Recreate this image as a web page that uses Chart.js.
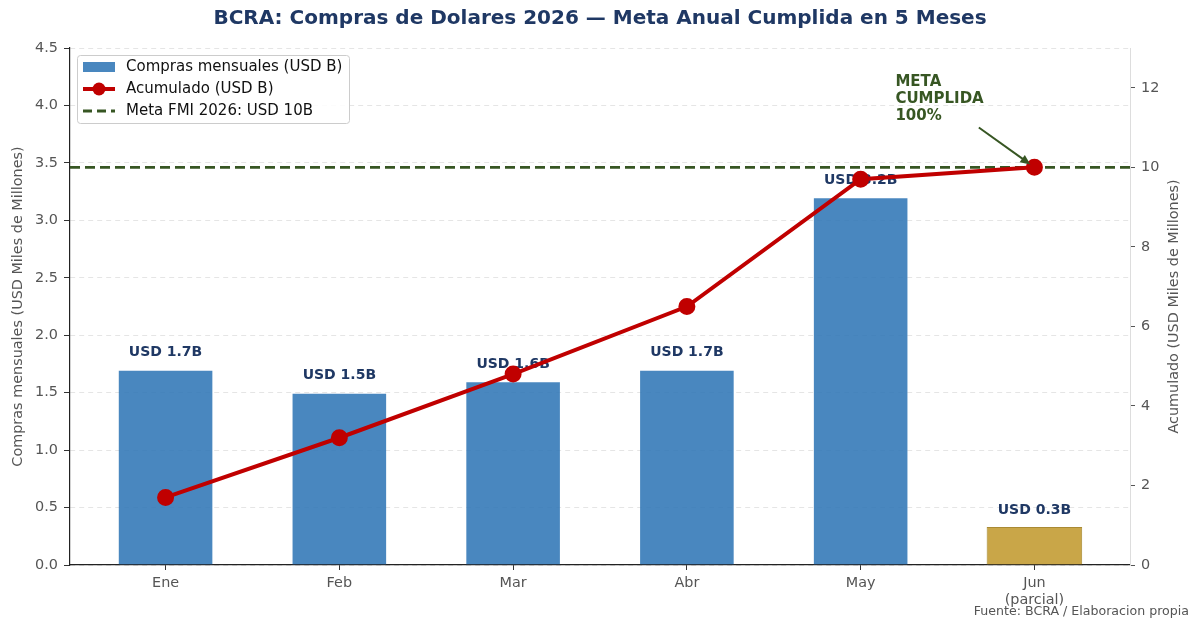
<!DOCTYPE html>
<html>
<head>
<meta charset="utf-8">
<script src="https://cdn.jsdelivr.net/npm/chart.js@4.4.1/dist/chart.umd.min.js"></script>
<style>
  html, body { margin: 0; padding: 0; background: #fff; }
  #wrap { width: 1200px; height: 630px; }
</style>
</head>
<body>
<div id="wrap"><canvas id="bcraChart" width="1200" height="630"></canvas></div>
<script>
const months = ['Ene', 'Feb', 'Mar', 'Abr', 'May', ['Jun', '(parcial)']];
const monthlyBuys = [1.7, 1.5, 1.6, 1.7, 3.2, 0.33];   // USD B
const monthlyLabels = ['USD 1.7B', 'USD 1.5B', 'USD 1.6B', 'USD 1.7B', 'USD 3.2B', 'USD 0.3B'];
const cumulative = [1.7, 3.2, 4.8, 6.5, 9.7, 10.0];   // USD B
const imfTarget = 10;
const xMin = -0.55, xMax = 5.55;

const FONT = "'DejaVu Sans', sans-serif";
const NAVY = '#1f3864';
const GREEN = '#375623';
const GREY = '#555555';

const barColors = monthlyBuys.map((v, i) => i === months.length - 1 ? 'rgba(191, 150, 40, 0.85)' : 'rgba(46, 117, 182, 0.87)');
const barBorders = monthlyBuys.map((v, i) => i === months.length - 1 ? 'rgba(160, 125, 30, 0.9)' : 'rgba(46, 117, 182, 0)');

// labels, title, annotation and legend drawn on the canvas
const decorations = {
    id: 'decorations',
    afterDatasetDraw(chart, args) {
        if (args.index !== 0) return;
        const c = chart.ctx;
        c.save();
        c.font = 'bold 14px ' + FONT;
        c.fillStyle = NAVY;
        c.textAlign = 'center';
        c.textBaseline = 'middle';
        args.meta.data.forEach((el, i) => {
            c.fillText(monthlyLabels[i], el.x, el.y - 17);
        });
        c.restore();
    },
    afterDraw(chart) {
        const c = chart.ctx;
        const xs = chart.scales.x, y1 = chart.scales.y1;
        const area = chart.chartArea;
        c.save();

        // title
        c.font = 'bold 20px ' + FONT;
        c.fillStyle = NAVY;
        c.textAlign = 'center';
        c.textBaseline = 'middle';
        c.fillText('BCRA: Compras de Dolares 2026 \u2014 Meta Anual Cumplida en 5 Meses', 600, 19);

        // axis titles
        c.font = '14.4px ' + FONT;
        c.fillStyle = GREY;
        const midY = (area.top + area.bottom) / 2;
        c.save();
        c.translate(18, midY);
        c.rotate(-Math.PI / 2);
        c.fillText('Compras mensuales (USD Miles de Millones)', 0, 0);
        c.restore();
        c.save();
        c.translate(1174, midY);
        c.rotate(-Math.PI / 2);
        c.fillText('Acumulado (USD Miles de Millones)', 0, 0);
        c.restore();

        // source note
        c.font = '12.6px ' + FONT;
        c.textAlign = 'right';
        c.fillText('Fuente: BCRA / Elaboracion propia', 1189, 612);

        // annotation
        const last = months.length - 1;
        c.font = 'bold 15px ' + FONT;
        c.fillStyle = GREEN;
        c.textAlign = 'left';
        const tx = xs.getPixelForValue(4.2), ty = y1.getPixelForValue(12.15);
        ['META', 'CUMPLIDA', '100%'].forEach((t, i) => c.fillText(t, tx, ty + i * 17));
        const ax0 = xs.getPixelForValue(4.68), ay0 = y1.getPixelForValue(11.0);
        const px = xs.getPixelForValue(last), py = y1.getPixelForValue(cumulative[last]);
        const ang = Math.atan2(py - ay0, px - ax0);
        const hx = px - 5 * Math.cos(ang), hy = py - 5 * Math.sin(ang);
        c.strokeStyle = GREEN;
        c.lineWidth = 2;
        c.beginPath();
        c.moveTo(ax0, ay0);
        c.lineTo(hx - 6 * Math.cos(ang), hy - 6 * Math.sin(ang));
        c.stroke();
        c.beginPath();
        c.moveTo(hx, hy);
        c.lineTo(hx - 10 * Math.cos(ang) + 4.5 * Math.sin(ang), hy - 10 * Math.sin(ang) - 4.5 * Math.cos(ang));
        c.lineTo(hx - 10 * Math.cos(ang) - 4.5 * Math.sin(ang), hy - 10 * Math.sin(ang) + 4.5 * Math.cos(ang));
        c.closePath();
        c.fill();

        // legend
        const lx = 77, ly = 55, lw = 272, lh = 68;
        c.fillStyle = 'rgba(255,255,255,0.85)';
        c.strokeStyle = '#cccccc';
        c.lineWidth = 1;
        c.beginPath();
        c.roundRect(lx + 0.5, ly + 0.5, lw, lh, 3);
        c.fill();
        c.stroke();
        c.font = '15px ' + FONT;
        c.textBaseline = 'middle';
        const rows = [ly + 12, ly + 34, ly + 56];
        c.fillStyle = barColors[0];
        c.fillRect(lx + 6, rows[0] - 5, 32, 10);
        c.strokeStyle = '#c00000';
        c.lineWidth = 4;
        c.beginPath(); c.moveTo(lx + 6, rows[1]); c.lineTo(lx + 38, rows[1]); c.stroke();
        c.fillStyle = '#c00000';
        c.beginPath(); c.arc(lx + 22, rows[1], 6.5, 0, Math.PI * 2); c.fill();
        c.strokeStyle = GREEN;
        c.lineWidth = 3;
        c.setLineDash([9, 5]);
        c.beginPath(); c.moveTo(lx + 6, rows[2]); c.lineTo(lx + 38, rows[2]); c.stroke();
        c.setLineDash([]);
        c.fillStyle = '#111';
        c.fillText('Compras mensuales (USD B)', lx + 49, rows[0]);
        c.fillText('Acumulado (USD B)', lx + 49, rows[1]);
        c.fillText('Meta FMI 2026: USD 10B', lx + 49, rows[2]);
        c.restore();
    }
};

const ctx = document.getElementById('bcraChart').getContext('2d');

new Chart(ctx, {
    type: 'bar',
    data: {
        datasets: [
            {
                label: 'Compras mensuales (USD B)',
                data: monthlyBuys.map((v, i) => ({ x: i, y: v })),
                backgroundColor: barColors,
                borderColor: barBorders,
                borderWidth: 1,
                categoryPercentage: 1,
                barPercentage: 0.55,
                yAxisID: 'y',
                order: 3
            },
            {
                type: 'line',
                label: 'Meta FMI 2026: USD 10B',
                data: [{ x: xMin, y: imfTarget }, { x: xMax, y: imfTarget }],
                borderColor: GREEN,
                borderWidth: 2.8,
                borderDash: [10, 5],
                pointRadius: 0,
                yAxisID: 'y1',
                order: 2
            },
            {
                type: 'line',
                label: 'Acumulado (USD B)',
                data: cumulative.map((v, i) => ({ x: i, y: v })),
                borderColor: '#c00000',
                backgroundColor: '#c00000',
                borderWidth: 4,
                pointRadius: 6.5,
                pointHoverRadius: 6.5,
                tension: 0,
                yAxisID: 'y1',
                order: 1
            }
        ]
    },
    options: {
        responsive: false,
        animation: false,
        layout: { padding: { top: 48, left: 0, right: 0, bottom: 0 } },
        plugins: {
            legend: { display: false },
            title: { display: false },
            tooltip: { enabled: false }
        },
        scales: {
            x: {
                type: 'linear',
                min: xMin,
                max: xMax,
                offset: false,
                afterBuildTicks: (s) => { s.ticks = months.map((m, i) => ({ value: i })); },
                afterFit: (s) => { s.height = 65; },
                grid: { drawOnChartArea: false, offset: false, tickLength: 5, tickColor: '#333' },
                border: { color: '#222', width: 1.2 },
                ticks: {
                    color: GREY,
                    font: { family: FONT, size: 14.4, lineHeight: 1.15 },
                    padding: 5,
                    autoSkip: false,
                    maxRotation: 0,
                    callback: (v) => months[v]
                }
            },
            y: {
                position: 'left',
                min: 0,
                max: 4.5,
                afterFit: (s) => { s.width = 70; },
                grid: {
                    color: 'rgba(0,0,0,0.1)',
                    tickBorderDash: [],
                    tickColor: '#333',
                    tickLength: 6
                },
                border: { color: '#222', width: 1.2, dash: [5, 4] },
                ticks: {
                    stepSize: 0.5,
                    color: GREY,
                    padding: 6,
                    font: { family: FONT, size: 14.4 },
                    callback: (v) => v.toFixed(1)
                }
            },
            y1: {
                position: 'right',
                min: 0,
                max: 13,
                afterFit: (s) => { s.width = 70; },
                grid: { drawOnChartArea: false, tickColor: '#555', tickLength: 5 },
                border: { color: '#dddddd', width: 1 },
                ticks: {
                    stepSize: 2,
                    includeBounds: false,
                    color: GREY,
                    padding: 6,
                    font: { family: FONT, size: 14.4 }
                }
            }
        }
    },
    plugins: [decorations]
});
</script>
</body>
</html>
